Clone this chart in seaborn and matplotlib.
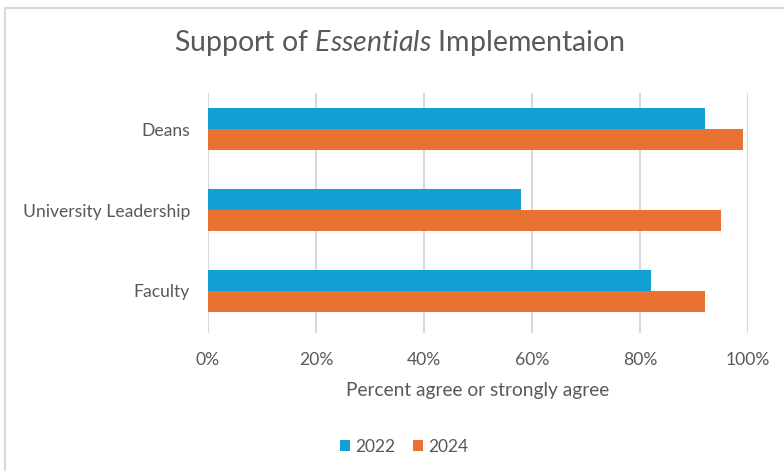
import matplotlib
matplotlib.use("Agg")
import matplotlib.pyplot as plt
import seaborn as sns
import pandas as pd
from matplotlib.patches import Rectangle
from matplotlib.ticker import FuncFormatter

categories = ["Deans", "University Leadership", "Faculty"]
years = ["2022", "2024"]
values_2022 = [92, 58, 82]
values_2024 = [99, 95, 92]
x_ticks = [0, 20, 40, 60, 80, 100]

df = pd.DataFrame({
    "Group": categories * 2,
    "Year": [years[0]] * 3 + [years[1]] * 3,
    "Value": values_2022 + values_2024,
})

sns.set_theme(style="white")
FONT = "Lato"
plt.rcParams["font.family"] = [FONT, "DejaVu Sans"]
plt.rcParams["mathtext.fontset"] = "custom"
plt.rcParams["mathtext.rm"] = FONT
plt.rcParams["mathtext.it"] = FONT + ":italic"

TXT = "#595959"
GRID = "#D9D9D9"
palette = {"2022": "#119FD6", "2024": "#E97132"}

fig = plt.figure(figsize=(7.84, 4.71), dpi=100)
ax = fig.add_axes([208 / 784, 1 - 333 / 471, 540 / 784, 240 / 471])

sns.barplot(data=df, y="Group", x="Value", hue="Year", order=categories,
            hue_order=years, palette=palette, orient="h", width=0.52,
            ax=ax, saturation=1, legend=True, edgecolor="none")

ax.set_xlim(0, 100)
ax.set_ylim(2.52, -0.45)
ax.set_xticks(x_ticks)
ax.xaxis.set_major_formatter(FuncFormatter(lambda v, p: f"{int(v)}%"))
ax.grid(axis="x", color=GRID, linewidth=1.5)
ax.set_axisbelow(True)
for s in ax.spines.values():
    s.set_visible(False)
ax.tick_params(axis="both", length=0, labelsize=12.6, colors=TXT)
ax.tick_params(axis="y", pad=13)
ax.tick_params(axis="x", pad=14)
ax.set_ylabel("")
ax.set_xlabel("Percent agree or strongly agree", fontsize=13.8, color=TXT, labelpad=10)

handles, labels = ax.get_legend_handles_labels()
ax.legend_.remove()
fig.legend(handles, labels, loc="center", bbox_to_anchor=(404 / 784, 1 - 447 / 471),
           ncol=2, frameon=False, fontsize=12.5, labelcolor=TXT,
           handlelength=0.6, handleheight=0.6, handletextpad=0.3, columnspacing=1.0)

fig.text(400 / 784, 1 - 43 / 471, r"Support of $\mathit{Essentials}$ Implementaion",
         ha="center", va="center", fontsize=20.5, color=TXT)

fig.patches.append(Rectangle((5 / 784, -0.01), 1.0, 1 - 8 / 471 + 0.01,
                             transform=fig.transFigure, fill=False,
                             edgecolor="#D9D9D9", linewidth=1.5))

fig.savefig("out.png", dpi=100)
